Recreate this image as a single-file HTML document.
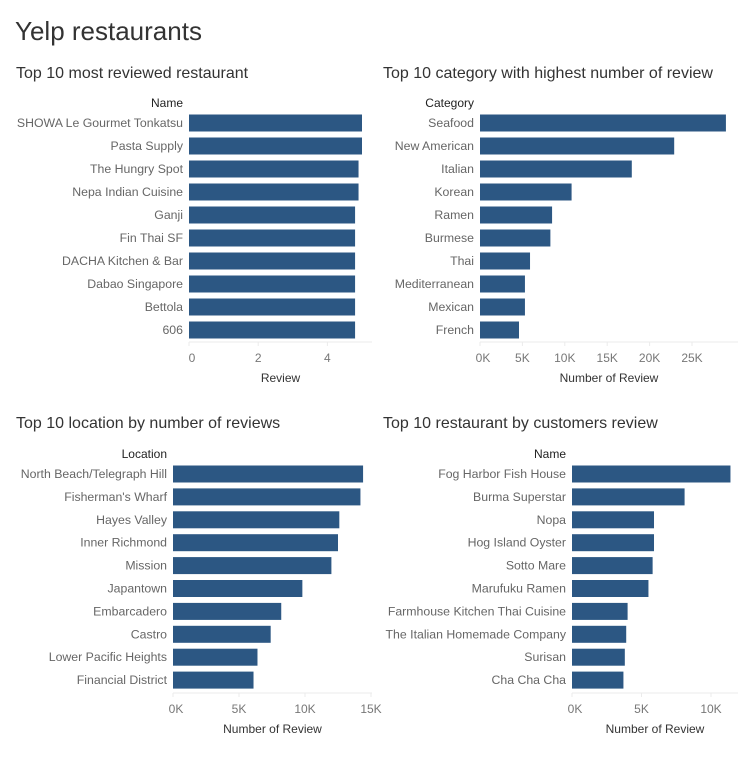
<!DOCTYPE html>
<html><head><meta charset="utf-8"><style>
body{margin:0;background:#fff;width:749px;height:759px;overflow:hidden;font-family:"Liberation Sans",sans-serif}
svg{position:absolute;left:0;top:0}
</style></head><body>
<svg id="c" width="749" height="759">
<text x="15" y="40" font-size="26" fill="#333">Yelp restaurants</text>
</svg>
<script>
const p1Cats=["SHOWA Le Gourmet Tonkatsu","Pasta Supply","The Hungry Spot","Nepa  Indian Cuisine","Ganji","Fin Thai SF","DACHA Kitchen & Bar","Dabao Singapore","Bettola","606"];
const p1Vals=[5.0,5.0,4.9,4.9,4.8,4.8,4.8,4.8,4.8,4.8];
const p1Ticks=[0,2,4];
const p1TickLabels=["0","2","4"];
const p2Cats=["Seafood","New American","Italian","Korean","Ramen","Burmese","Thai","Mediterranean","Mexican","French"];
const p2Vals=[29000,22900,17900,10800,8500,8300,5900,5300,5300,4600];
const p2Ticks=[0,5000,10000,15000,20000,25000];
const p2TickLabels=["0K","5K","10K","15K","20K","25K"];
const p3Cats=["North Beach/Telegraph Hill","Fisherman's Wharf","Hayes Valley","Inner Richmond","Mission","Japantown","Embarcadero","Castro","Lower Pacific Heights","Financial District"];
const p3Vals=[14400,14200,12600,12500,12000,9800,8200,7400,6400,6100];
const p3Ticks=[0,5000,10000,15000];
const p3TickLabels=["0K","5K","10K","15K"];
const p4Cats=["Fog Harbor Fish House","Burma Superstar","Nopa","Hog Island Oyster","Sotto Mare","Marufuku Ramen","Farmhouse Kitchen Thai Cuisine","The Italian Homemade Company","Surisan","Cha Cha Cha"];
const p4Vals=[11400,8100,5900,5900,5800,5500,4000,3900,3800,3700];
const p4Ticks=[0,5000,10000];
const p4TickLabels=["0K","5K","10K"];

const svg=document.getElementById('c');
const NS="http://www.w3.org/2000/svg";
function mk(tag,attrs,parent){const e=document.createElementNS(NS,tag);for(const k in attrs)e.setAttribute(k,attrs[k]);(parent||svg).appendChild(e);return e;}
function panel(o,cats,vals,ticks,tlabels){
  const g=mk('g',{});
  
  
  const t=mk('text',{x:o.tx,y:o.ty,'font-size':16,fill:'#333'},g);t.textContent=o.title;
  
  
  const h=mk('text',{x:o.x0-6,y:o.hy,'font-size':12,fill:'#222','text-anchor':'end'},g);h.textContent=o.header;
  
  
  const sx=v=>o.x0+v*o.k;
  cats.forEach((c,i)=>{
    const cy=o.top+i*o.step;
    const lb=mk('text',{x:o.x0-6,y:cy+4,'font-size':12.3,fill:'#666','text-anchor':'end'},g);lb.textContent=c;
    
    
    const r=mk('rect',{x:o.x0,y:cy-8.5,width:Math.max(0,sx(vals[i])-o.x0),height:17,fill:'#2c5783'},g);
    
    
  });
  mk('line',{x1:o.x0,x2:o.axEnd,y1:o.axisY,y2:o.axisY,stroke:'#ebebeb'},g);
  ticks.forEach((tv,i)=>{
    mk('line',{x1:sx(tv),x2:sx(tv),y1:o.axisY,y2:o.axisY+4,stroke:'#ebebeb'},g);
    const tl=mk('text',{x:sx(tv)+(i==0?3:0),y:o.axisY+20,'font-size':12,fill:'#777','text-anchor':'middle'},g);tl.textContent=tlabels[i];
    
    
  });
  const at=mk('text',{x:(o.x0+o.axEnd)/2,y:o.axisY+40,'font-size':12,fill:'#333','text-anchor':'middle'},g);at.textContent=o.axisTitle;
  
  
}
panel({name:'most-reviewed-panel',title:'Top 10 most reviewed restaurant',tx:16,ty:78,header:'Name',hy:107,x0:189,k:34.6,top:123,step:23,axisY:342,axEnd:372,axisTitle:'Review'},p1Cats,p1Vals,p1Ticks,p1TickLabels);
panel({name:'category-panel',title:'Top 10 category with highest number of review',tx:383,ty:78,header:'Category',hy:107,x0:480,k:0.00848,top:123,step:23,axisY:342,axEnd:738,axisTitle:'Number of Review'},p2Cats,p2Vals,p2Ticks,p2TickLabels);
panel({name:'location-panel',title:'Top 10 location by number of reviews',tx:16,ty:428,header:'Location',hy:458,x0:173,k:0.0132,top:474,step:22.9,axisY:693,axEnd:372,axisTitle:'Number of Review'},p3Cats,p3Vals,p3Ticks,p3TickLabels);
panel({name:'customer-review-panel',title:'Top 10 restaurant by customers review',tx:383,ty:428,header:'Name',hy:458,x0:572,k:0.0139,top:474,step:22.9,axisY:693,axEnd:738,axisTitle:'Number of Review'},p4Cats,p4Vals,p4Ticks,p4TickLabels);
</script>
</body></html>
